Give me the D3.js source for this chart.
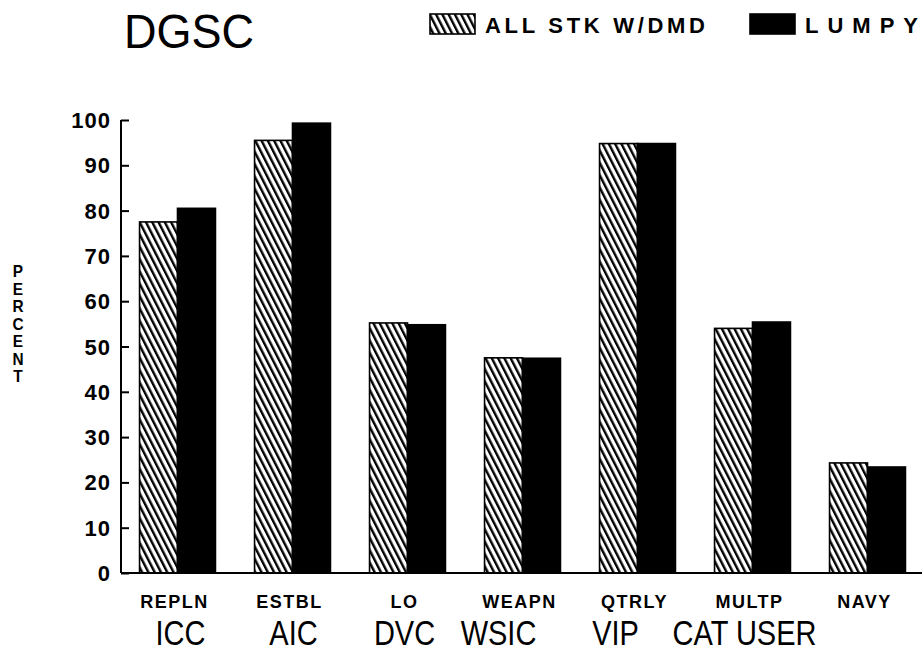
<!DOCTYPE html>
<html>
<head>
<meta charset="utf-8">
<script src="https://cdn.jsdelivr.net/npm/d3@7"></script>
<style>
  body { margin: 0; background: #fff; }
  text { font-family: "Liberation Sans", Arial, Helvetica, sans-serif; fill: #000; }
</style>
</head>
<body>
<div id="chart"></div>
<script>
// Data
const categories = ["REPLN", "ESTBL", "LO", "WEAPN", "QTRLY", "MULTP", "NAVY"];
const groupLabels = ["ICC", "AIC", "DVC", "WSIC", "VIP", "CAT USER", ""];
const allStk = [77.5, 95.5, 55.2, 47.5, 94.8, 54, 24.3];
const lumpy = [80.5, 99.3, 54.8, 47.4, 94.8, 55.4, 23.4];
const yTicks = [0, 10, 20, 30, 40, 50, 60, 70, 80, 90, 100];
const seriesNames = ["ALL STK W/DMD", "LUMPY"];

const width = 922, height = 653;

const svg = d3.select("#chart")
    .append("svg")
    .attr("width", width)
    .attr("height", height);

// hatch pattern for the first series
const defs = svg.append("defs");
const hatch = defs.append("pattern")
    .attr("id", "hatch")
    .attr("patternUnits", "userSpaceOnUse")
    .attr("width", 5.6)
    .attr("height", 10)
    .attr("patternTransform", "rotate(-27)");
hatch.append("rect").attr("width", 5.6).attr("height", 10).attr("fill", "#fff");
hatch.append("rect").attr("width", 2.4).attr("height", 10).attr("fill", "#000");

// scales
const x0 = d3.scaleBand()
    .domain(categories)
    .range([120, 925])
    .paddingInner(0.34)
    .paddingOuter(0.17);

const x1 = d3.scaleBand()
    .domain(seriesNames)
    .range([0, x0.bandwidth()]);

const y = d3.scaleLinear()
    .domain([0, 100])
    .range([573, 120]);

const fills = ["url(#hatch)", "#000"];

// bars
categories.forEach((c, i) => {
    const vals = [allStk[i], lumpy[i]];
    seriesNames.forEach((s, j) => {
        svg.append("rect")
            .attr("x", x0(c) + x1(s))
            .attr("y", y(vals[j]))
            .attr("width", x1.bandwidth())
            .attr("height", y(0) - y(vals[j]))
            .attr("fill", fills[j])
            .attr("stroke", "#000")
            .attr("stroke-width", 1.6);
    });
});

// y axis, ticks pointing inward
const yAxis = svg.append("g")
    .attr("transform", "translate(121,0)")
    .call(d3.axisRight(y).tickValues(yTicks).tickSize(8).tickFormat(""));
yAxis.select(".domain").remove();
yAxis.selectAll("line").attr("stroke", "#000").attr("stroke-width", 2);

svg.append("line")
    .attr("x1", 121).attr("x2", 121)
    .attr("y1", y(100)).attr("y2", y(0))
    .attr("stroke", "#000").attr("stroke-width", 2);

// y tick labels
svg.selectAll(".ylab")
    .data(yTicks)
    .enter().append("text")
    .attr("class", "ylab")
    .attr("x", 111)
    .attr("y", d => y(d) + 8)
    .attr("text-anchor", "end")
    .attr("font-size", 22)
    .attr("font-weight", "bold")
    .attr("letter-spacing", 1)
    .text(d => d);

// baseline
svg.append("line")
    .attr("x1", 121).attr("x2", 922)
    .attr("y1", y(0)).attr("y2", y(0))
    .attr("stroke", "#000").attr("stroke-width", 2);

// category labels
svg.selectAll(".cat")
    .data(categories)
    .enter().append("text")
    .attr("class", "cat")
    .attr("x", d => x0(d) + x0.bandwidth() / 2 - 3)
    .attr("y", 608)
    .attr("text-anchor", "middle")
    .attr("font-size", 18)
    .attr("font-weight", "bold")
    .attr("letter-spacing", 1.5)
    .text(d => d);

// second row of labels (tall, narrow type)
const nudge = [3, 1, -3, -24, -22, -8, 0];
svg.selectAll(".grp")
    .data(groupLabels)
    .enter().append("text")
    .attr("class", "grp")
    .attr("transform", (d, i) => "translate(" + (x0(categories[i]) + x0.bandwidth() / 2 + nudge[i]) + ",645) scale(1,1.2)")
    .attr("text-anchor", "middle")
    .attr("font-size", 29)
    .text(d => d);

// y axis title, stacked letters
svg.selectAll(".ytitle")
    .data("PERCENT".split(""))
    .enter().append("text")
    .attr("class", "ytitle")
    .attr("transform", (d, i) => "translate(18," + (277 + i * 17.5) + ") scale(1.1,1.2)")
    .attr("text-anchor", "middle")
    .attr("font-size", 14)
    .attr("font-weight", "bold")
    .text(d => d);

// title
svg.append("text")
    .attr("transform", "translate(124,48) scale(1,1.08)")
    .attr("font-size", 45)
    .text("DGSC");

// legend
const legendX = [430, 750];
const legendTextW = [220, 113];
seriesNames.forEach((s, j) => {
    svg.append("rect")
        .attr("x", legendX[j])
        .attr("y", 14)
        .attr("width", 45)
        .attr("height", 20)
        .attr("fill", fills[j])
        .attr("stroke", "#000")
        .attr("stroke-width", 1.6);
    svg.append("text")
        .attr("x", legendX[j] + 55)
        .attr("y", 33)
        .attr("font-size", 22)
        .attr("font-weight", "bold")
        .attr("textLength", legendTextW[j])
        .attr("lengthAdjust", "spacing")
        .text(s);
});
</script>
</body>
</html>
